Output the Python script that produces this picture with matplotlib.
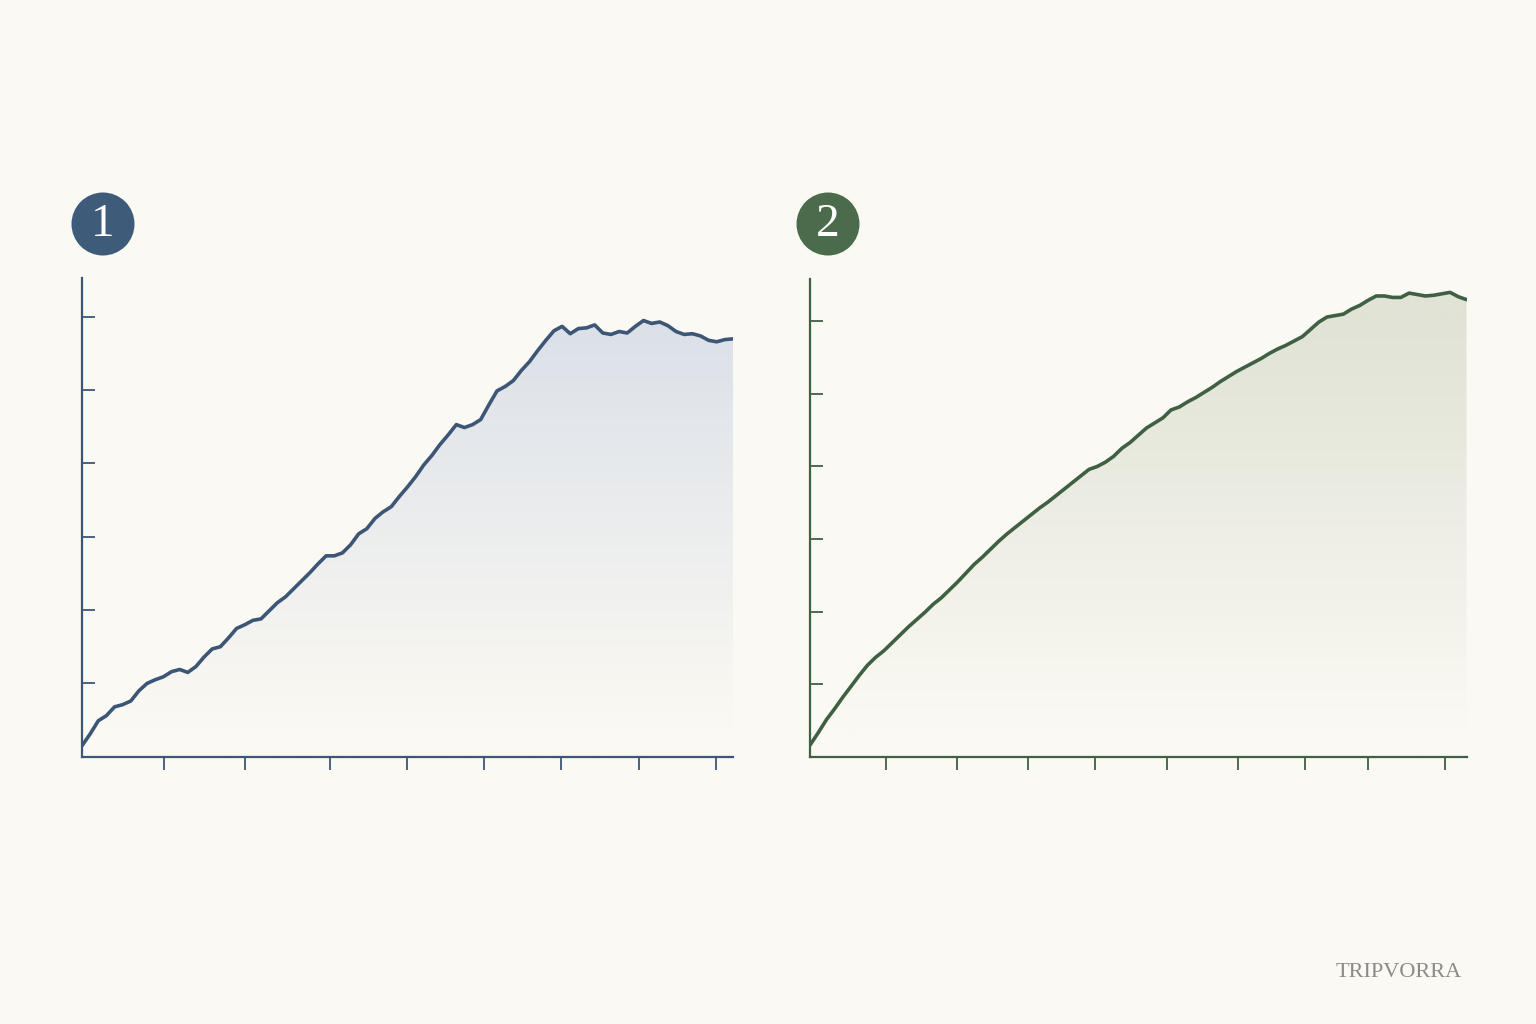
import numpy as np
import matplotlib
matplotlib.use("Agg")
import matplotlib.pyplot as plt
from matplotlib.colors import to_rgb
from matplotlib.patches import Circle

# ---------------- data ----------------
x1 = np.arange(81)
y1 = [0.15, 0.31, 0.49, 0.56, 0.68, 0.71, 0.76, 0.90, 1.00, 1.05,
      1.09, 1.16, 1.19, 1.15, 1.23, 1.36, 1.47, 1.50, 1.62, 1.75,
      1.80, 1.86, 1.88, 1.99, 2.10, 2.18, 2.29, 2.40, 2.51, 2.63,
      2.74, 2.74, 2.78, 2.89, 3.04, 3.11, 3.25, 3.34, 3.41, 3.55,
      3.68, 3.82, 3.98, 4.11, 4.26, 4.39, 4.53, 4.49, 4.53, 4.60,
      4.80, 4.99, 5.05, 5.13, 5.27, 5.39, 5.54, 5.68, 5.81, 5.87,
      5.77, 5.84, 5.85, 5.89, 5.78, 5.76, 5.80, 5.78, 5.87, 5.95,
      5.91, 5.93, 5.88, 5.80, 5.76, 5.77, 5.74, 5.68, 5.66, 5.69,
      5.70]
xticks1 = [10.1, 20.0, 30.5, 39.9, 49.35, 58.85, 68.4, 77.9]
yticks1 = [1, 2, 3, 4, 5, 6]

x2 = np.arange(81)
y2 = [0.16, 0.33, 0.51, 0.66, 0.82, 0.97, 1.12, 1.26, 1.37, 1.46,
      1.57, 1.68, 1.79, 1.89, 1.99, 2.10, 2.19, 2.30, 2.41, 2.53,
      2.65, 2.75, 2.86, 2.97, 3.07, 3.16, 3.25, 3.34, 3.43, 3.51,
      3.60, 3.69, 3.78, 3.87, 3.96, 4.00, 4.06, 4.14, 4.25, 4.33,
      4.43, 4.53, 4.60, 4.67, 4.78, 4.82, 4.89, 4.95, 5.02, 5.09,
      5.17, 5.24, 5.31, 5.37, 5.43, 5.49, 5.56, 5.62, 5.67, 5.73,
      5.79, 5.89, 5.99, 6.06, 6.08, 6.10, 6.17, 6.22, 6.29, 6.35,
      6.35, 6.33, 6.33, 6.39, 6.37, 6.35, 6.36, 6.38, 6.40, 6.34,
      6.30]
xticks2 = [9.29, 17.88, 26.52, 34.76, 43.55, 52.14, 60.32, 68.02, 77.35]
yticks2 = [1, 2, 3, 4, 5, 6]

badges = ["1", "2"]
watermark = "TRIPVORRA"

# ---------------- style ----------------
BG = "#FBF9F3"
NAVY = "#3D5675"
NAVY_BADGE = "#3F5B7A"
GREEN = "#3F6043"
GREEN_BADGE = "#4A6B4C"
FILL1 = "#DBE0E8"
FILL2 = "#E0E3D5"

fig = plt.figure(figsize=(15.36, 10.24), dpi=100, facecolor=BG)


def gradient_fill(ax, x, y, top_color, ymax, y_lo, y_hi):
    poly = ax.fill_between(x, y, 0, facecolor="none", edgecolor="none")
    ys = np.linspace(0, ymax, 400)
    t = np.clip((ys - y_lo) / (y_hi - y_lo), 0, 1)
    bg = np.array(to_rgb(BG))
    tc = np.array(to_rgb(top_color))
    img = bg[None, :] * (1 - t)[:, None] + tc[None, :] * t[:, None]
    img = img[:, None, :]
    im = ax.imshow(img, extent=[x[0], x[-1], 0, ymax], origin="lower",
                   aspect="auto", zorder=1, interpolation="bilinear")
    im.set_clip_path(poly.get_paths()[0], transform=ax.transData)


def panel(rect, x, y, color, fill, xticks, yticks, ymax):
    ax = fig.add_axes(rect)
    ax.set_facecolor("none")
    gradient_fill(ax, x, y, fill, ymax, 0.4, 6.0)
    ax.plot(x, y, color=color, lw=2.6, zorder=3, solid_capstyle="round",
            solid_joinstyle="round")
    ax.set_xlim(0, 80)
    ax.set_ylim(0, ymax)
    for s in ("top", "right"):
        ax.spines[s].set_visible(False)
    for s in ("left", "bottom"):
        ax.spines[s].set_color(color)
        ax.spines[s].set_linewidth(1.6)
    ax.set_xticks(xticks)
    ax.set_yticks(yticks)
    ax.set_xticklabels([])
    ax.set_yticklabels([])
    ax.tick_params(axis="x", direction="out", length=9, width=1.3, color=color)
    ax.tick_params(axis="y", direction="in", length=9, width=1.3, color=color)
    return ax


ax1 = panel([82 / 1536, 1 - 756.7 / 1024, 651 / 1536, 478.7 / 1024],
            x1, y1, NAVY, FILL1, xticks1, yticks1, 6.53)
ax2 = panel([810 / 1536, 1 - 756.7 / 1024, 656.5 / 1536, 477.4 / 1024],
            x2, y2, GREEN, FILL2, xticks2, yticks2, 6.58)

# overlay for badges and watermark
ov = fig.add_axes([0, 0, 1, 1], zorder=10)
ov.set_xlim(0, 1536)
ov.set_ylim(0, 1024)
ov.axis("off")
ov.patch.set_alpha(0)

for (cx, col), lab in zip([(103, NAVY_BADGE), (828, GREEN_BADGE)], badges):
    ov.add_patch(Circle((cx, 800), 31.5, facecolor=col, edgecolor="none"))
    ov.text(cx, 800 - 1, lab, color="white", fontsize=34,
            family="Liberation Serif", ha="center", va="center")

ov.text(1399, 47, watermark, color="#8A8A87", fontsize=16,
        family="Liberation Serif", ha="center", va="baseline")

fig.savefig("out.png", dpi=100, facecolor=BG)
